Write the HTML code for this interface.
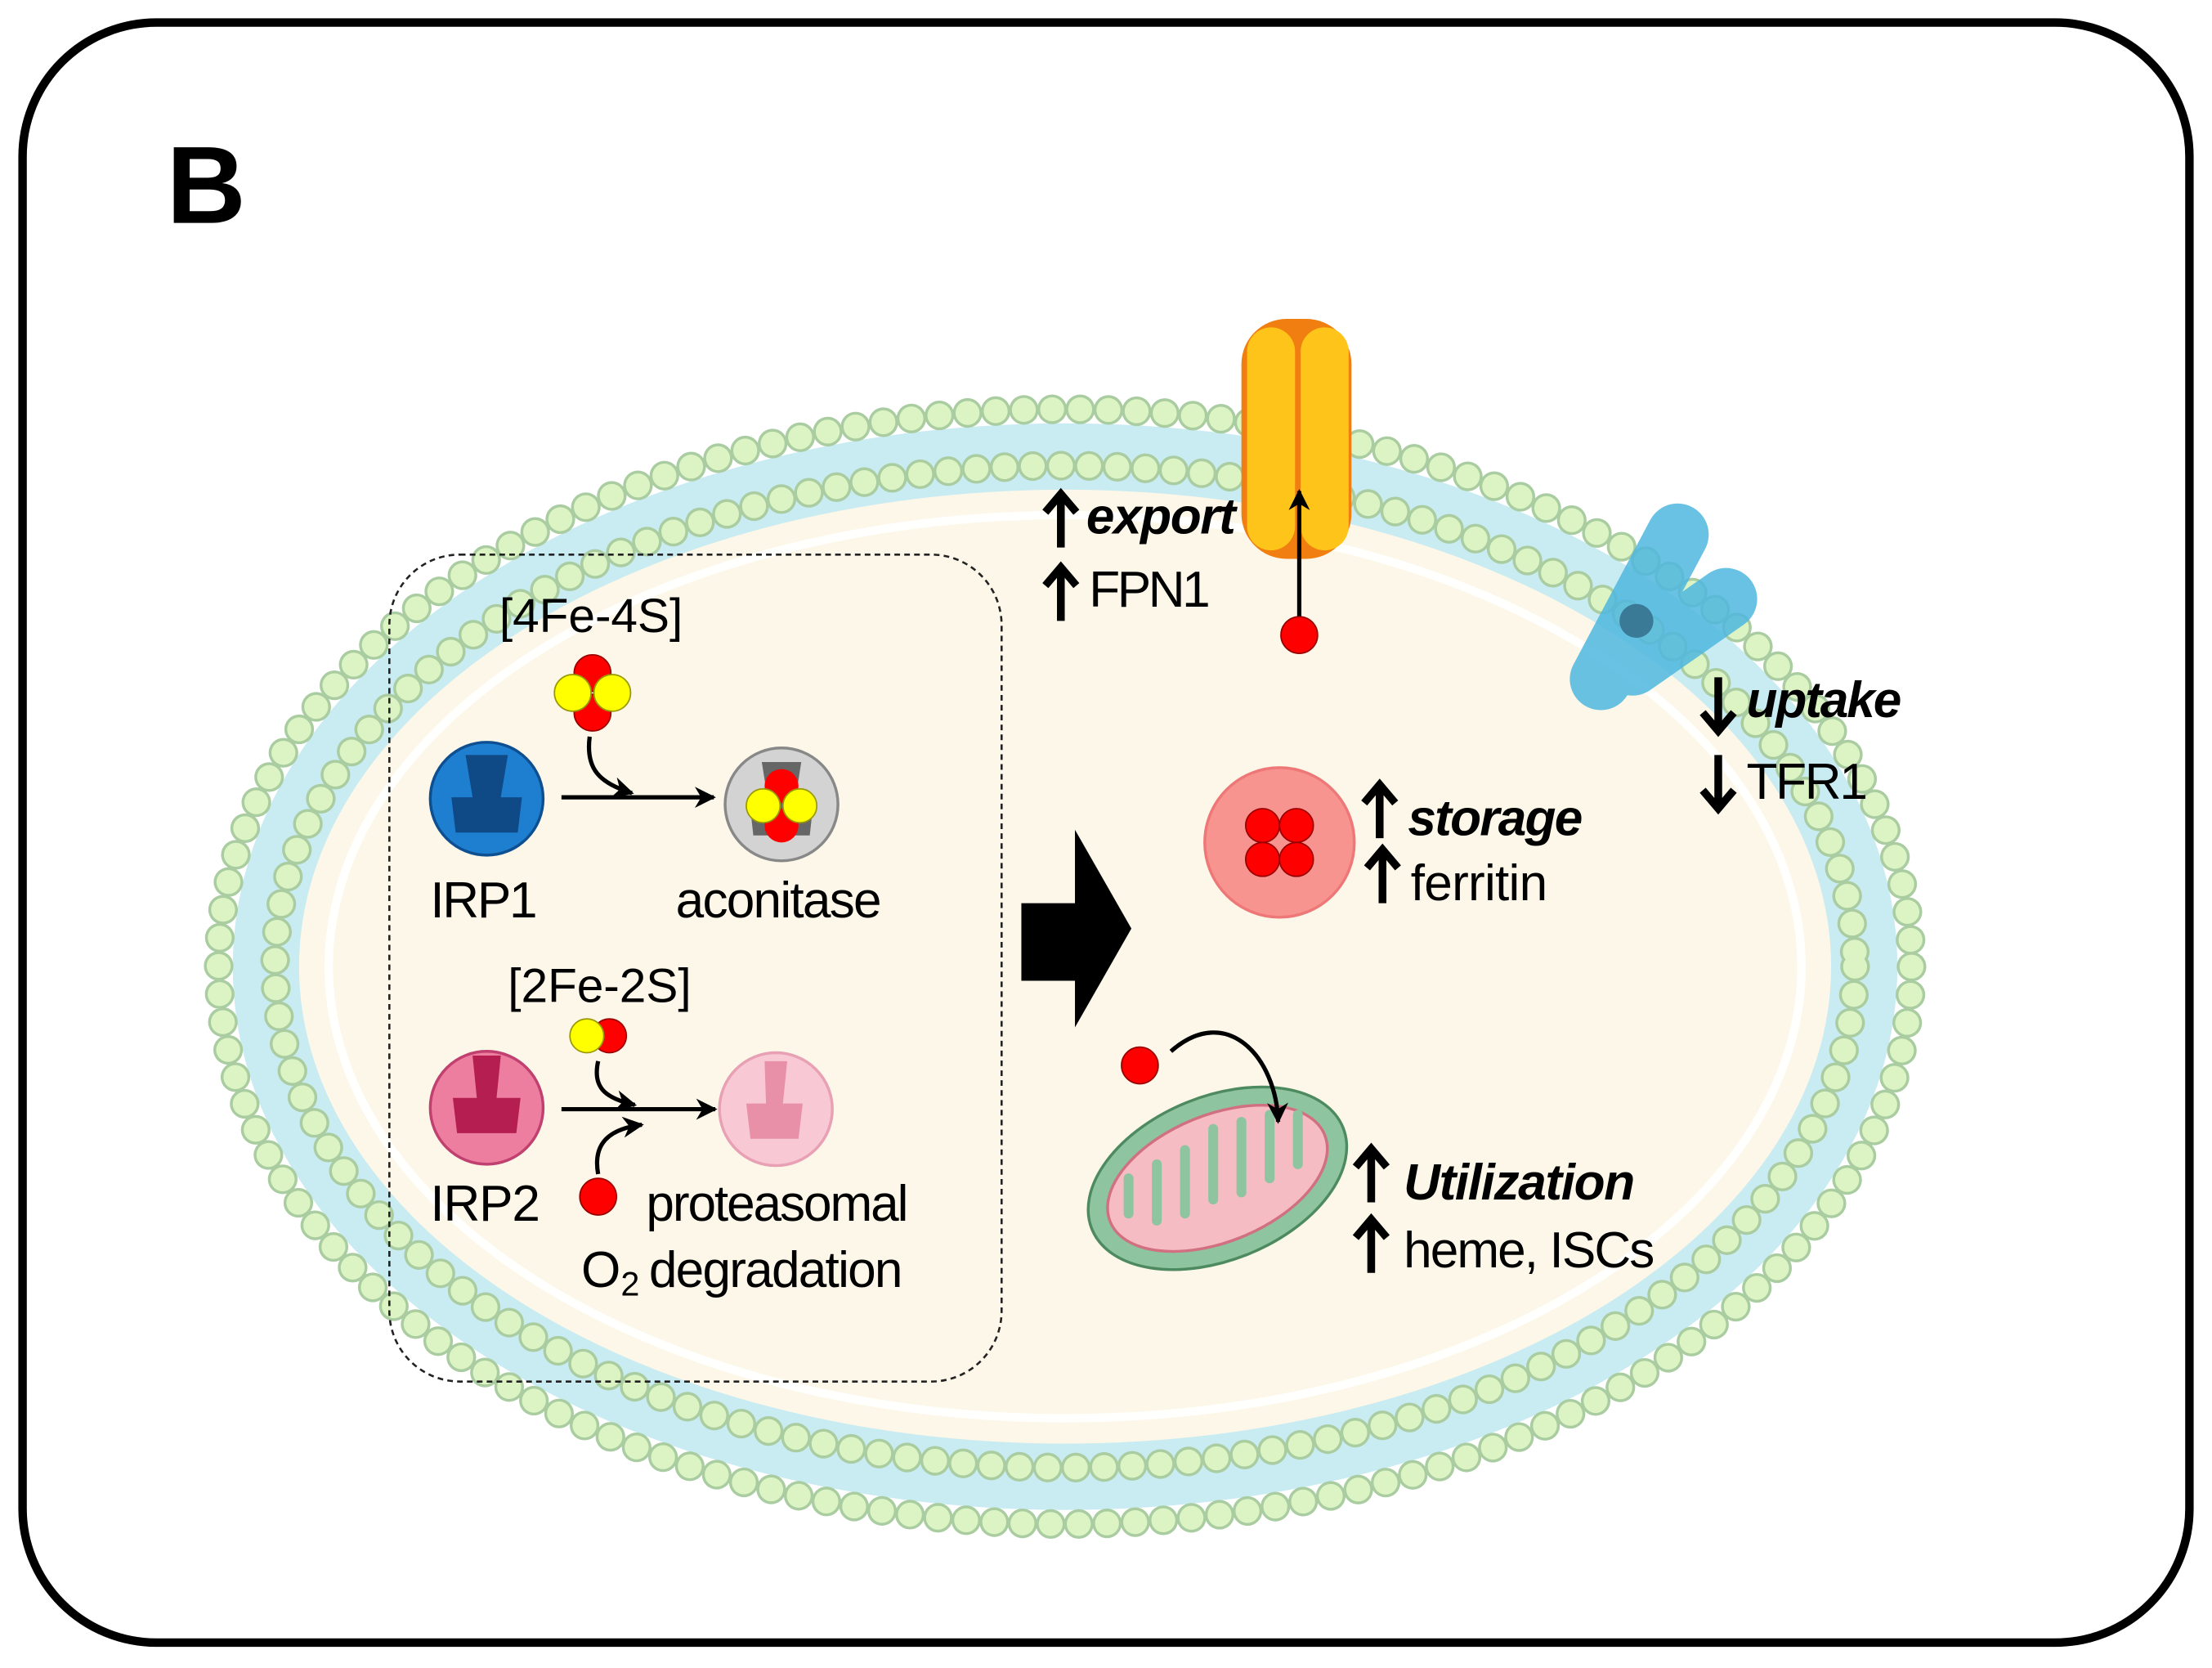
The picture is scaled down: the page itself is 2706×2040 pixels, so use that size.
<!DOCTYPE html>
<html><head><meta charset="utf-8">
<style>
html,body{margin:0;padding:0;background:#fff;}
svg{display:block;}
text{font-family:"Liberation Sans",sans-serif;}
</style></head><body>
<svg width="2706" height="2040" viewBox="0 0 1568 1182" preserveAspectRatio="none" xmlns="http://www.w3.org/2000/svg">
<defs>
<marker id="ah" viewBox="0 0 10 10" refX="9" refY="5" markerWidth="5" markerHeight="5" orient="auto"><path d="M0,0 L10,5 L0,10 L3,5z" fill="#000"/></marker>
</defs>
<rect x="16" y="16" width="1536" height="1148" rx="95" fill="#fff" stroke="#000" stroke-width="6"/>
<text x="118" y="158" font-size="78" font-weight="bold">B</text>

<!-- membrane -->
<ellipse cx="755" cy="685" rx="590" ry="385" fill="#c9ebf2"/>
<ellipse cx="755" cy="685" rx="543" ry="338" fill="#fcf7e8"/>
<ellipse cx="755" cy="685" rx="522" ry="320" fill="none" stroke="#fff" stroke-width="6" opacity="0.9"/>
<g fill="none" stroke-linecap="round" stroke-dasharray="0 20">
<ellipse cx="755" cy="685" rx="600" ry="395" stroke="#a9cca0" stroke-width="21"/>
<ellipse cx="755" cy="685" rx="600" ry="395" stroke="#dcf3c4" stroke-width="17"/>
<ellipse cx="755" cy="685" rx="560" ry="355" stroke="#a9cca0" stroke-width="21"/>
<ellipse cx="755" cy="685" rx="560" ry="355" stroke="#dcf3c4" stroke-width="17"/>
</g>

<!-- dashed box -->
<rect x="276" y="393" width="434" height="586" rx="50" fill="none" stroke="#222" stroke-width="1.5" stroke-dasharray="4 3"/>

<text x="354" y="448" font-size="34" textLength="130">[4Fe-4S]</text>
<circle cx="420" cy="477" r="13" fill="#f00" stroke="#900"/>
<circle cx="420" cy="505" r="13" fill="#f00" stroke="#900"/>
<circle cx="406" cy="491" r="13" fill="#ff0" stroke="#990"/>
<circle cx="434" cy="491" r="13" fill="#ff0" stroke="#990"/>

<!-- IRP1 -->
<circle cx="345" cy="566" r="40" fill="#1e7fd0" stroke="#0d4f90" stroke-width="2"/>
<path d="M330,535 h30 l-5,30 h15 l-3,25 h-44 l-3,-25 h15z" fill="#0f4a86"/>
<text x="305" y="650" font-size="36" textLength="76">IRP1</text>
<circle cx="554" cy="570" r="40" fill="#d3d3d3" stroke="#888" stroke-width="2"/>
<path d="M540,540 h28 l-4,25 h13 l-3,27 h-40 l-3,-27 h13z" fill="#666"/>
<circle cx="554" cy="557" r="12" fill="#f00"/><circle cx="554" cy="585" r="12" fill="#f00"/>
<circle cx="541" cy="571" r="12" fill="#ff0" stroke="#990"/><circle cx="567" cy="571" r="12" fill="#ff0" stroke="#990"/>
<text x="479" y="650" font-size="36" textLength="146">aconitase</text>
<path d="M398,565 L506,565" stroke="#000" stroke-width="3" fill="none" marker-end="url(#ah)"/>
<path d="M418,522 C415,545 425,555 448,562" stroke="#000" stroke-width="3" fill="none" marker-end="url(#ah)"/>

<text x="360" y="710" font-size="34" textLength="130">[2Fe-2S]</text>
<circle cx="432" cy="734" r="12" fill="#f00" stroke="#900"/>
<circle cx="416" cy="734" r="12" fill="#ff0" stroke="#990"/>
<circle cx="345" cy="785" r="40" fill="#ee7ea0" stroke="#c04070" stroke-width="2"/>
<path d="M335,748 h20 l-3,30 h17 l-3,25 h-42 l-3,-25 h17z" fill="#b51e50"/>
<text x="305" y="865" font-size="36" textLength="78">IRP2</text>
<circle cx="550" cy="786" r="40" fill="#f8c8d4" stroke="#e8a0b4" stroke-width="2"/>
<path d="M542,752 h16 l-3,30 h14 l-3,25 h-34 l-3,-25 h14z" fill="#e890a8"/>
<path d="M398,786 L507,786" stroke="#000" stroke-width="3" fill="none" marker-end="url(#ah)"/>
<path d="M424,752 C420,770 428,778 450,783" stroke="#000" stroke-width="3" fill="none" marker-end="url(#ah)"/>
<path d="M424,832 C420,810 432,800 455,797" stroke="#000" stroke-width="3" fill="none" marker-end="url(#ah)"/>
<circle cx="424" cy="848" r="13" fill="#f00" stroke="#900"/>
<text x="458" y="865" font-size="36" textLength="186">proteasomal</text>
<text x="412" y="912" font-size="36">O<tspan font-size="24" dy="6">2</tspan><tspan dy="-6" x="460" textLength="180">degradation</tspan></text>

<polygon points="724,640 762,640 762,588 802,658 762,728 762,695 724,695" fill="#000"/>

<!-- FPN1 -->
<rect x="880" y="226" width="78" height="170" rx="32" fill="#f07e10"/>
<rect x="884" y="232" width="34" height="158" rx="17" fill="#ffc41a"/>
<rect x="922" y="232" width="34" height="158" rx="17" fill="#ffc41a"/>
<path d="M921,440 L921,348" stroke="#000" stroke-width="3" marker-end="url(#ah)"/>
<circle cx="921" cy="450" r="13" fill="#f00" stroke="#900"/>

<!-- thick arrows -->
<g stroke="#000" stroke-width="5.5" fill="none" stroke-linejoin="miter">
<path d="M752,388 V352 M741,363 L752,350 L763,363"/>
<path d="M752,440 V404 M741,415 L752,402 L763,415"/>
<path d="M1218,480 V516 M1207,505 L1218,518 L1229,505"/>
<path d="M1218,535 V571 M1207,560 L1218,573 L1229,560"/>
<path d="M978,594 V558 M967,569 L978,556 L989,569"/>
<path d="M980,640 V604 M969,615 L980,602 L991,615"/>
<path d="M972,852 V816 M961,827 L972,814 L983,827"/>
<path d="M972,902 V866 M961,877 L972,864 L983,877"/>
</g>
<text x="770" y="378" font-size="36" font-weight="bold" font-style="italic" textLength="106">export</text>
<text x="772" y="430" font-size="36" textLength="86">FPN1</text>

<!-- TFR1 -->
<g opacity="0.85">
<rect x="1140" y="350" width="44" height="160" rx="22" fill="#4fb8e0" transform="rotate(28 1162 430)"/>
<rect x="1168" y="385" width="44" height="125" rx="22" fill="#4fb8e0" transform="rotate(55 1190 448)"/>
</g>
<circle cx="1160" cy="440" r="12" fill="#3a7a96"/>
<text x="1238" y="508" font-size="36" font-weight="bold" font-style="italic" textLength="110">uptake</text>
<text x="1238" y="566" font-size="36" textLength="86">TFR1</text>

<!-- ferritin -->
<circle cx="907" cy="597" r="53" fill="#f79490" stroke="#e77" stroke-width="2"/>
<circle cx="895" cy="585" r="12" fill="#f00" stroke="#900"/><circle cx="919" cy="585" r="12" fill="#f00" stroke="#900"/>
<circle cx="895" cy="609" r="12" fill="#f00" stroke="#900"/><circle cx="919" cy="609" r="12" fill="#f00" stroke="#900"/>
<text x="998" y="592" font-size="36" font-weight="bold" font-style="italic" textLength="124">storage</text>
<text x="1000" y="638" font-size="36" textLength="97">ferritin</text>

<!-- mitochondrion -->
<ellipse cx="863" cy="835" rx="96" ry="58" fill="#8fc4a0" stroke="#4d8a60" stroke-width="2" transform="rotate(-22 863 835)"/>
<ellipse cx="863" cy="835" rx="82" ry="45" fill="#f6bcc4" stroke="#d07080" stroke-width="2" transform="rotate(-22 863 835)"/>
<path d="M800,860 v-25 M820,865 v-40 M840,860 v-45 M860,850 v-50 M880,845 v-50 M900,835 v-45 M920,825 v-35" stroke="#8fc4a0" stroke-width="7" stroke-linecap="round"/>
<circle cx="808" cy="755" r="13" fill="#f00" stroke="#900"/>
<path d="M830,745 C870,710 905,750 906,795" stroke="#000" stroke-width="3" fill="none" marker-end="url(#ah)"/>
<text x="995" y="850" font-size="36" font-weight="bold" font-style="italic" textLength="164">Utilization</text>
<text x="995" y="898" font-size="36" textLength="178">heme, ISCs</text>
</svg>
</body></html>
